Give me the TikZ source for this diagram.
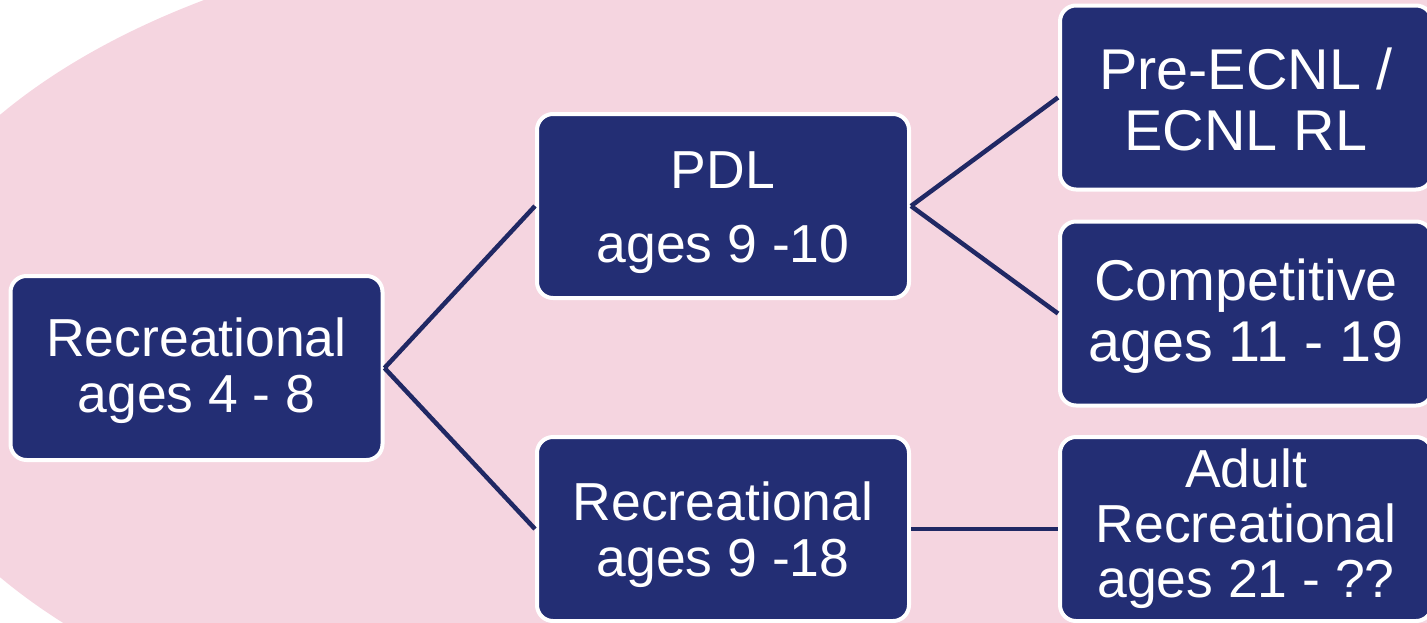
\documentclass[tikz,border=0pt]{standalone}
\usepackage{fontspec}
\setmainfont{Liberation Sans}
\definecolor{bgpink}{RGB}{245,213,224}
\definecolor{boxnavy}{RGB}{35,46,116}
\definecolor{linenavy}{RGB}{32,40,100}
\newcommand{\lift}[1]{\rule{0pt}{#1}}
\begin{document}
\begin{tikzpicture}[x=1pt,y=-1pt,
  box/.style={draw=white, line width=4pt, fill=boxnavy, rounded corners=16pt,
    minimum width=372pt, minimum height=184pt, text=white, align=center,
    inner sep=0pt, font=\fontsize{53.5}{56}\selectfont},
  rightbox/.style={box, font=\fontsize{57.5}{61}\selectfont},
  link/.style={draw=linenavy, line width=4.5pt}]
\useasboundingbox (0,0) rectangle (1427,622);
\clip (0,0) rectangle (1427,622);
\fill[bgpink] (625,346) ellipse [x radius=750, y radius=418];
\fill[bgpink] (625,-10) rectangle (1440,640);
\node[box] (rec1) at (196.5,368) {\lift{45pt}Recreational\\ages 4 - 8};
\node[box, font=\fontsize{53.5}{74}\selectfont] (pdl) at (723,206) {\lift{51pt}PDL\\ages 9 -10};
\node[box] (rec2) at (723,529) {\lift{51pt}Recreational\\ages 9 -18};
\node[rightbox] (ecnl) at (1246,97.5) {\lift{45pt}Pre-ECNL /\\ECNL RL};
\node[rightbox] (comp) at (1246,313.5) {\lift{47pt}Competitive\\ages 11 - 19};
\node[box, font=\fontsize{53.5}{55}\selectfont] (adult) at (1246,529) {Adult\\Recreational\\ages 21 - ??};
\draw[link] (rec1.east) -- (pdl.west);
\draw[link] (rec1.east) -- (rec2.west);
\draw[link] (pdl.east) -- (ecnl.west);
\draw[link] (pdl.east) -- (comp.west);
\draw[link] (rec2.east) -- (adult.west);
\end{tikzpicture}
\end{document}
